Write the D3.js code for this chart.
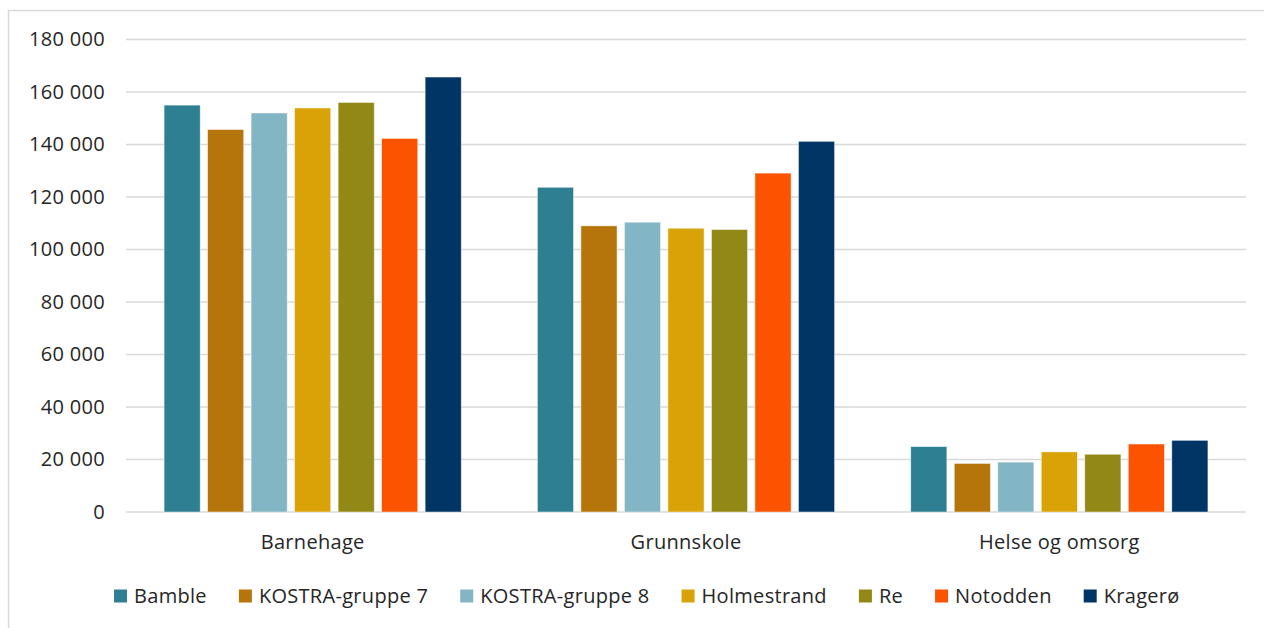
<!DOCTYPE html>
<html>
<head>
<meta charset="utf-8">
<script src="https://cdn.jsdelivr.net/npm/d3@7"></script>
<style>
  html, body { margin: 0; padding: 0; background: #fff; }
  svg { display: block; }
  text { font-family: "Open Sans", "Liberation Sans", sans-serif; fill: #262626; }
</style>
</head>
<body>
<svg id="chart" width="1264" height="628"></svg>
<script>
const categories = ["Barnehage", "Grunnskole", "Helse og omsorg"];
const seriesNames = ["Bamble", "KOSTRA-gruppe 7", "KOSTRA-gruppe 8", "Holmestrand", "Re", "Notodden", "Kragerø"];
const bamble      = [155000, 123700, 24900];
const kostra7     = [145700, 109000, 18500];
const kostra8     = [152000, 110400, 19000];
const holmestrand = [153900, 108100, 22900];
const re          = [156000, 107600, 22000];
const notodden    = [142300, 129100, 25900];
const kragero     = [165700, 141200, 27300];
const colors = ["#2E7F91", "#B5750B", "#83B6C4", "#D9A307", "#918815", "#FB5300", "#003565"];
const yTicks = [0, 20000, 40000, 60000, 80000, 100000, 120000, 140000, 160000, 180000];

const seriesValues = [bamble, kostra7, kostra8, holmestrand, re, notodden, kragero];

const svg = d3.select("#chart");
const W = 1264, H = 628;
const FS = 20, LS = "0.3px";

// chart border
svg.append("rect").attr("x", 8.5).attr("y", 10.5).attr("width", W + 10).attr("height", H + 10)
  .attr("fill", "none").attr("stroke", "#d9d9d9").attr("stroke-width", 1.5);

const plot = { left: 126, right: 1246, top: 39.5, bottom: 512 };

const y = d3.scaleLinear().domain([0, 180000]).range([plot.bottom, plot.top]);
const x0 = d3.scaleBand().domain(categories).range([plot.left, plot.right])
  .paddingInner(0.204).paddingOuter(0.102);
const x1 = d3.scaleBand().domain(seriesNames).range([0, x0.bandwidth()]).paddingInner(0.17).paddingOuter(0);

const fmt = v => d3.format(",")(v).replace(/,/g, " ");

// gridlines
svg.append("g").selectAll("line").data(yTicks).join("line")
  .attr("x1", plot.left).attr("x2", plot.right)
  .attr("y1", d => y(d)).attr("y2", d => y(d))
  .attr("stroke", "#d9d9d9").attr("stroke-width", 1.5);

// y axis
const yAxis = d3.axisLeft(y).tickValues(yTicks).tickFormat(fmt).tickSize(0).tickPadding(0);
const yg = svg.append("g").attr("transform", `translate(${plot.left - 21},0)`).call(yAxis);
yg.select(".domain").remove();
yg.selectAll("text").attr("font-size", FS).attr("font-family", "Open Sans").attr("fill", "#262626")
  .style("letter-spacing", LS);

// bars
const groups = svg.append("g").selectAll("g").data(categories).join("g")
  .attr("transform", d => `translate(${x0(d)},0)`);
groups.selectAll("rect")
  .data((c, ci) => seriesNames.map((s, si) => ({ s, si, v: seriesValues[si][ci] })))
  .join("rect")
  .attr("x", d => x1(d.s))
  .attr("width", x1.bandwidth())
  .attr("y", d => y(d.v))
  .attr("height", d => y(0) - y(d.v))
  .attr("fill", d => colors[d.si])
  .attr("stroke", "#ffffff").attr("stroke-opacity", 0.6).attr("stroke-width", 0.75);

// x axis labels
const xAxis = d3.axisBottom(x0).tickSize(0).tickPadding(0);
const xg = svg.append("g").attr("transform", `translate(0,${plot.bottom + 23})`).call(xAxis);
xg.select(".domain").remove();
xg.selectAll("text").attr("font-size", FS).attr("font-family", "Open Sans").attr("fill", "#262626")
  .attr("dy", "0.71em").style("letter-spacing", LS);

// legend
const legend = svg.append("g").attr("transform", "translate(114,596)");
let lx = 0;
seriesNames.forEach((name, i) => {
  const g = legend.append("g").attr("transform", `translate(${lx},0)`);
  g.append("rect").attr("x", 0).attr("y", -6.5).attr("width", 13).attr("height", 13).attr("fill", colors[i]);
  const t = g.append("text").attr("x", 20).attr("y", 0).attr("dy", "0.35em")
    .attr("font-size", FS).attr("font-family", "Open Sans").style("letter-spacing", LS).text(name);
  lx += 20 + t.node().getComputedTextLength() + 32;
});
</script>
</body>
</html>
